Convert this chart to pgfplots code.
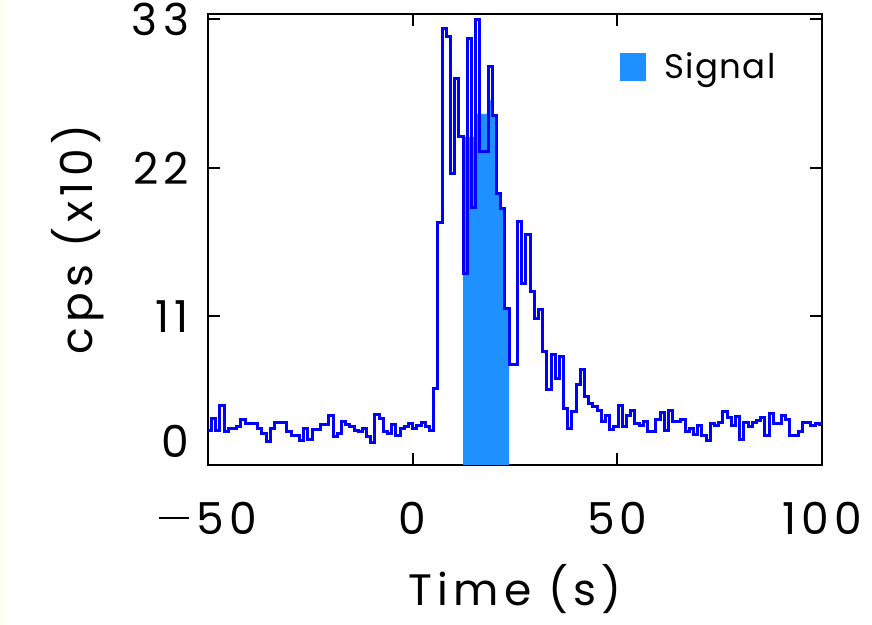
\documentclass[border=0pt]{standalone}
\usepackage{pgfplots}
\pgfplotsset{compat=1.18}
\usepackage{fontspec}
\setmainfont{Poppins}[LetterSpace=12]
\newfontfamily\legfont{Poppins}[LetterSpace=4]
\definecolor{lcblue}{HTML}{0000FF}
\definecolor{sigblue}{HTML}{1E90FF}
\definecolor{cream}{HTML}{FFFFF2}
\newcommand{\mns}{\rule[7.5pt]{15pt}{1.2pt}\hspace{4pt}}

\begin{document}
\begin{tikzpicture}
\useasboundingbox (-104pt,-80pt) rectangle (332pt,232.5pt);
\fill[white] (-104pt,-80pt) rectangle (332pt,232.5pt);
\fill[cream] (-104pt,-80pt) rectangle (-100.5pt,232.5pt);
\begin{axis}[
    at={(0,0)}, anchor=south west,
    scale only axis,
    width=307pt, height=225.5pt,
    xmin=-50, xmax=100, ymin=0, ymax=33.4,
    xtick={-50,0,50,100},
    xticklabels={\mns50,0,50,100},
    ytick={11,22,33},
    extra y ticks={0},
    extra y tick style={yticklabel style={yshift=12pt}},
    xtick pos=both, ytick pos=both,
    tick align=inside,
    major tick length=6pt,
    axis line style={line width=1pt},
    tick style={line width=1pt, black},
    /pgf/number format/assume math mode=true,
    tick label style={font=\fontsize{22}{26}\selectfont},
    xticklabel style={yshift=-15pt},
    yticklabel style={xshift=-6pt},
    every axis x label/.style={at={([yshift=-62pt]rel axis cs:0.5,0)}, anchor=center, font=\fontsize{22}{26}\selectfont},
    every axis y label/.style={at={([xshift=-65pt]rel axis cs:0,0.5)}, anchor=center, rotate=90, font=\fontsize{22}{26}\selectfont},
    xlabel={Time (s)},
    ylabel={cps (x10)},
    legend style={at={(rel axis cs:0.671,0.925)}, anchor=north west, draw=none, fill=none,
        font=\legfont\fontsize{17}{20}\selectfont, inner sep=0pt,
        /tikz/every odd column/.append style={column sep=7pt}},
    legend image code/.code={\fill[#1] (0pt,-7pt) rectangle (13pt,7pt);},
    legend cell align=left,
]
\addplot[const plot, fill=sigblue, draw=none] table {
x y
12.3 24.3
13.324 24.3
14.348 24.3
15.372 26
16.396 26
17.42 26
18.444 27
19.468 25.9
20.492 20.1
21.516 19.0
22.54 11.6
23.564 11.6
} \closedcycle;
\addlegendentry{Signal}
\addplot[const plot, lcblue, line width=1.5pt, forget plot] table {
x y
-50 2.54
-49.14 3.41
-48.116 2.54
-47.092 4.39
-46.068 2.47
-45.044 2.72
-44.02 2.72
-42.996 2.84
-41.972 3.38
-40.948 3.09
-39.924 3.09
-38.9 3.09
-37.876 2.72
-36.852 2.35
-35.828 1.75
-34.804 2.72
-33.78 3.14
-32.756 3.14
-31.732 3.14
-30.708 2.47
-29.684 2.22
-28.66 2.2
-27.636 1.85
-26.612 2.7
-25.588 1.9
-24.564 2.65
-23.54 2.65
-22.516 3.0
-21.492 3.0
-20.468 3.7
-19.444 2.1
-18.42 2.35
-17.396 3.2
-16.372 3.0
-15.348 2.85
-14.324 2.55
-13.3 2.5
-12.276 2.7
-11.252 2.1
-10.228 1.7
-9.204 3.75
-8.18 3.45
-7.156 2.5
-6.132 2.3
-5.108 3.0
-4.084 2.15
-3.06 2.7
-2.036 2.85
-1.012 3.1
0.012 2.72
1.036 2.91
2.06 3.16
3.084 2.84
4.108 2.59
5.132 5.68
6.156 17.95
7.18 32.35
8.204 31.7
9.228 21.6
10.252 28.6
11.276 24.3
12.3 14.2
13.324 31.6
14.348 19.1
15.372 32.96
16.396 23.2
17.42 23.2
18.444 29.5
19.468 25.9
20.492 20.1
21.516 19.0
22.54 11.6
23.564 7.46
24.588 7.46
25.612 18.0
26.636 13.46
27.66 17.04
28.684 12.84
29.708 10.86
30.732 11.53
31.756 8.40
32.78 5.6
33.804 8.15
34.828 6.42
35.852 8.02
36.876 4.2
37.9 2.72
38.924 3.95
39.948 5.93
40.972 7.04
41.996 5.06
43.02 4.57
44.044 4.32
45.068 4.07
46.092 3.2
47.116 3.7
48.14 2.6
49.164 2.84
50.188 4.37
51.212 2.84
52.236 3.7
53.26 4.02
54.284 3.09
55.308 2.89
56.332 3.2
57.356 2.47
58.38 2.47
59.404 3.38
60.428 3.88
61.452 2.59
62.476 4.02
63.5 3.2
64.524 3.2
65.548 3.38
66.572 2.47
67.596 2.72
68.62 2.27
69.644 2.96
70.668 2.22
71.692 1.78
72.716 3.09
73.74 2.89
74.764 3.14
75.788 3.95
76.812 3.53
77.836 2.89
78.86 3.58
79.884 1.9
80.908 3.14
81.932 2.84
82.956 3.14
83.98 3.28
85.004 3.53
86.028 2.22
87.052 3.78
88.076 3.09
89.1 3.09
90.124 3.7
91.148 3.38
92.172 2.22
93.196 2.15
94.22 2.47
95.244 3.14
96.268 3.14
97.292 2.9
98.316 3.1
99.34 3.0
100 3.0
};
\end{axis}
\end{tikzpicture}
\end{document}
